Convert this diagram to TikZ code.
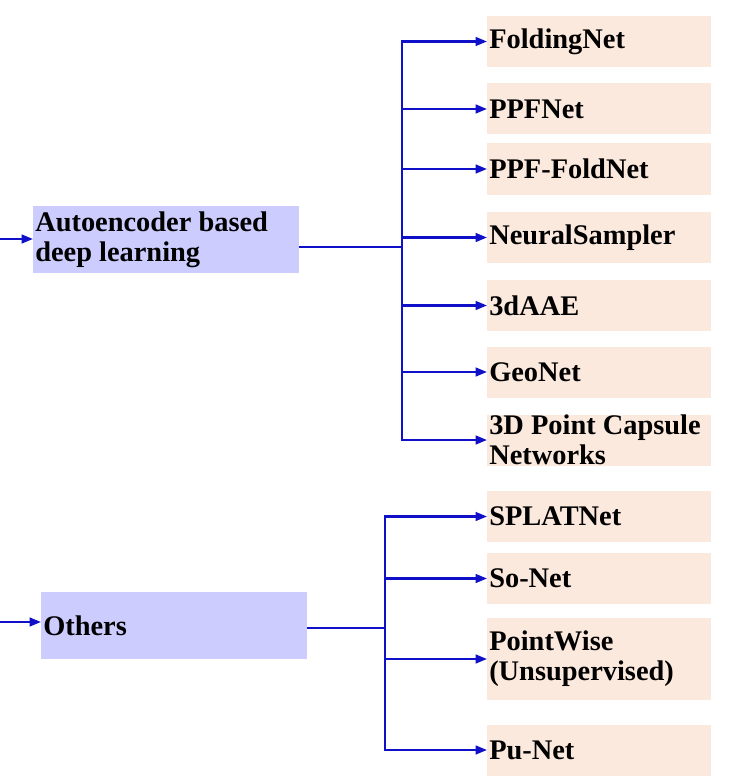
\documentclass[tikz,border=0pt]{standalone}
\usepackage{fontspec}
\setmainfont{Liberation Serif}
\usetikzlibrary{arrows.meta, positioning}
\definecolor{lav}{HTML}{CCCCFF}
\definecolor{peach}{HTML}{FCE9DE}
\definecolor{linkblue}{HTML}{1010C8}
\tikzset{
  boxfont/.style={font=\fontsize{21.3}{22.5}\selectfont\bfseries},
  catbox/.style={boxfont, fill=lav, minimum width=199pt, minimum height=50pt, text width=196pt, inner xsep=1.5pt, inner ysep=0pt, align=flush left, anchor=west},
  netbox/.style={boxfont, fill=peach, minimum width=168pt, text width=165pt, inner xsep=1.5pt, inner ysep=0pt, align=flush left, anchor=west},
  link/.style={linkblue, line width=1.6pt},
  linkarrow/.style={link, -{Triangle[length=8.5pt,width=6.5pt]}}
}
\begin{document}
\begin{tikzpicture}[x=0.75pt, y=-0.75pt]
\useasboundingbox (0,0) rectangle (732,781);
% category boxes
\node[catbox] (auto) at (33,239.5) {Autoencoder based\\deep learning};
\node[catbox] (others) at (41,625.5) {Others};
% method boxes
\foreach \n/\y/\h/\t in {fold/41.5/51/FoldingNet, ppf/109/51/PPFNet, ppffold/169/51/PPF-FoldNet, neural/237.5/51/NeuralSampler, aae/305.5/51/3dAAE, geo/372/51/GeoNet, caps/440/51/{3D Point Capsule\\Networks}, splat/516.5/51/SPLATNet, so/578.5/51/So-Net, pw/659/82/{PointWise\\(Unsupervised)}, pu/750/51/Pu-Net}
{
    \node[netbox, minimum height=\h*0.75pt] (\n) at (487,\y) {\t};
}
% incoming arrows
\coordinate (autoIn) at (0,239);
\coordinate (othersIn) at (0,622);
\draw[linkarrow] (autoIn) -- (autoIn -| auto.west);
\draw[linkarrow] (othersIn) -- (othersIn -| others.west);
% trunks
\coordinate (autoTrunk) at (402,247);
\coordinate (othersTrunk) at (385,628);
\draw[link] (auto.east |- autoTrunk) -- (autoTrunk);
\draw[link] (others.east |- othersTrunk) -- (othersTrunk);
\foreach \n in {fold,ppf,ppffold,neural,aae,geo,caps} {
    \draw[linkarrow] (autoTrunk) |- (\n.west);
}
\foreach \n in {splat,so,pw,pu} {
    \draw[linkarrow] (othersTrunk) |- (\n.west);
}
\end{tikzpicture}
\end{document}
